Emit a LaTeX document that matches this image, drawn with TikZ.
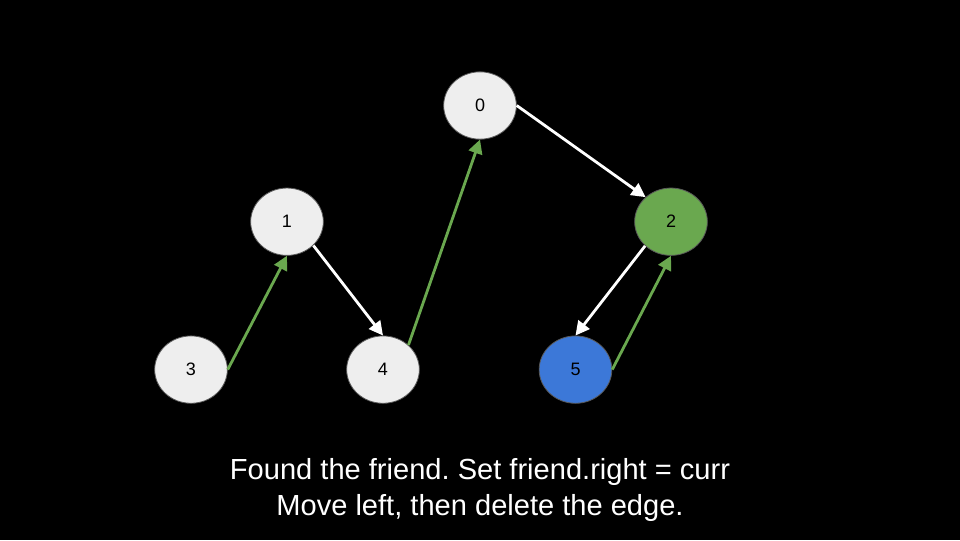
\documentclass[tikz,border=0pt]{standalone}
\usepackage{fontspec}
\setmainfont{Liberation Sans}
\usetikzlibrary{shapes.geometric,arrows.meta}
\definecolor{nodegrey}{HTML}{EEEEEE}
\definecolor{nodegreen}{HTML}{6AA84F}
\definecolor{nodeblue}{HTML}{3C78D8}
\definecolor{rimgrey}{HTML}{595959}
\frenchspacing
\tikzset{
  vertex/.style={ellipse, draw=rimgrey, line width=0.6pt, fill=nodegrey,
    minimum width=54.5pt, minimum height=50.5pt, inner sep=0pt,
    font=\fontsize{13.5}{16}\selectfont, text=black},
  greenv/.style={vertex, fill=nodegreen},
  bluev/.style={vertex, fill=nodeblue},
  link/.style={draw=white, line width=2.1pt, -{Triangle[length=10.5pt,width=10.5pt]}},
  thread/.style={draw=nodegreen, line width=2.1pt, -{Triangle[length=10.5pt,width=10.5pt]}},
  caption/.style={text=white, align=center, font=\fontsize{21.8}{27}\selectfont}
}
\begin{document}
\begin{tikzpicture}[x=0.75pt, y=-0.75pt]
  \fill[black] (0,0) rectangle (960,540);
  \useasboundingbox (0,0) rectangle (960,540);
  \node[vertex] (n0) at (480,105.5) {0};
  \node[vertex] (n1) at (287,221.7) {1};
  \node[greenv] (n2) at (671,221.7) {2};
  \node[vertex] (n3) at (191,369.6) {3};
  \node[vertex] (n4) at (383,369.6) {4};
  \node[bluev] (n5) at (575.5,369.6) {5};
  \draw[link] (n0.east) -- (n2.136);
  \draw[link] (n1.-42) -- (n4.north);
  \draw[link] (n2.223) -- (n5.north);
  \draw[thread] (n3.east) -- (n1.south);
  \draw[thread] (n4.44) -- (n0.south);
  \draw[thread] (n5.east) -- (n2.south);
  \node[caption] (cap) at (480,490) {Found the friend. Set friend.right = curr\\Move left, then delete the edge.};
\end{tikzpicture}
\end{document}
